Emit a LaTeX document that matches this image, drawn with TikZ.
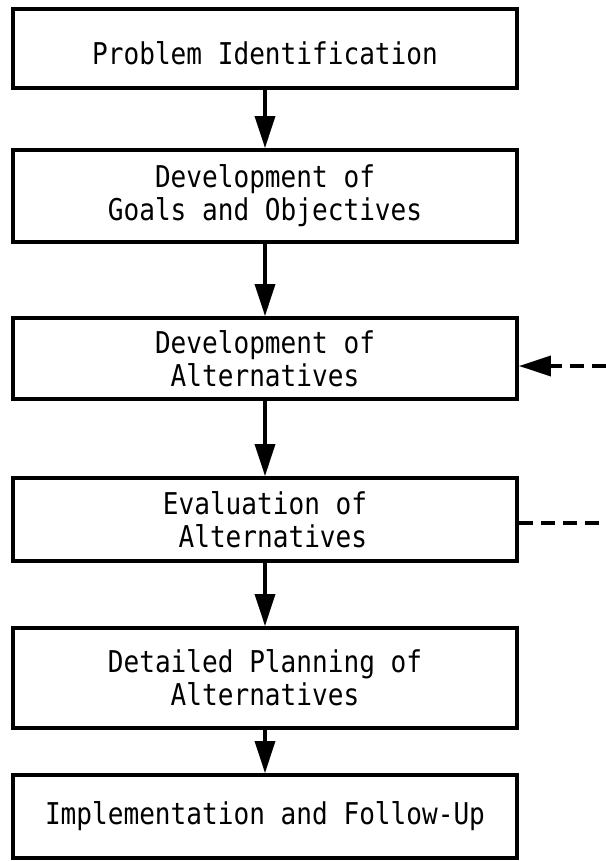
\documentclass[tikz,border=0pt]{standalone}
\usepackage{fontspec}
\setmonofont[FakeStretch=0.87]{DejaVu Sans Mono}
\usetikzlibrary{arrows.meta}
\tikzset{
  stagebox/.style={draw=black, line width=3.8pt, minimum width=504pt, align=center,
    inner sep=0pt, font=\ttfamily\fontsize{30}{33}\selectfont},
  flow/.style={line width=3.6pt, -{Triangle[length=32pt,width=20pt]}},
  feed/.style={line width=3.6pt, dash pattern=on 14pt off 8pt},
}
\begin{document}
\begin{tikzpicture}[x=1pt,y=-1pt]
\useasboundingbox (0,0) rectangle (605,861);
\node[stagebox, minimum height=79pt] (b1) at (265,48.5) {\smash{\raisebox{-16.5pt}{Problem Identification}}};
\node[stagebox, minimum height=92pt] (b2) at (265,196) {Development of\\Goals and Objectives};
\node[stagebox, minimum height=81pt] (b3) at (265,358.5) {Development of\\Alternatives};
\node[stagebox, minimum height=83pt] (b4) at (265,519.5) {Evaluation of\\\hphantom{A}Alternatives};
\node[stagebox, minimum height=100pt] (b5) at (265,678) {Detailed Planning of\\Alternatives};
\node[stagebox, minimum height=83pt] (b6) at (265,816.5) {Implementation and Follow-Up};
\draw[flow] (b1.south) -- (b2.north);
\draw[flow] (b2.south) -- (b3.north);
\draw[flow] (b3.south) -- (b4.north);
\draw[flow] (b4.south) -- (b5.north);
\draw[flow] (b5.south) -- (b6.north);
\coordinate (fin) at (606,366);
\coordinate (fout) at (606,523);
\draw[feed] (fin) -- (547,366);
\draw[line width=3.6pt, -{Triangle[length=32pt,width=20pt]}] (549,366) -- (b3.east |- fin);
\draw[feed] (b4.east |- fout) -- (fout);
\end{tikzpicture}
\end{document}
